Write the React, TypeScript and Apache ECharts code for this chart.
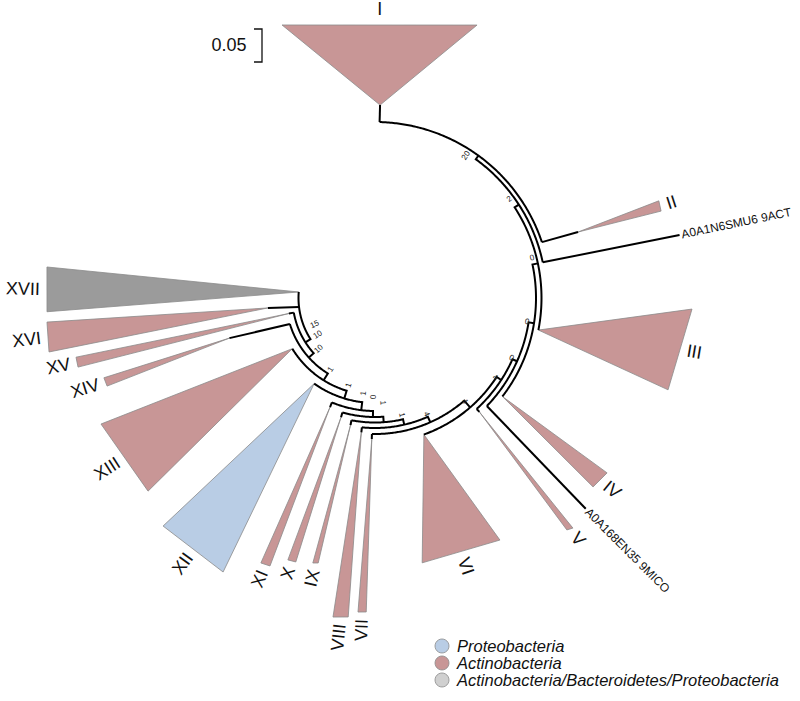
import React, { useEffect, useRef } from "react";
import * as echarts from "echarts";

// ---------------- data (polar: radius in px-units, angle in degrees clockwise from top) ----------------
const leafNames = ["I", "II", "A0A1N6SMU6 9ACT", "III", "IV", "A0A168EN35 9MICO", "V", "VI", "VII", "VIII", "IX", "X", "XI", "XII", "XIII", "XIV", "XV", "XVI", "XVII"];
// 0 = Proteobacteria, 1 = Actinobacteria, 2 = mixed, -1 = single taxon
const leafGroups = [1, 1, -1, 1, 1, -1, 1, 1, 1, 1, 1, 1, 1, 0, 1, 1, 1, 1, 2];
const leafParents = [0, 0, 1, 2, 3, 4, 5, 6, 7, 8, 9, 10, 11, 12, 13, 14, 15, 16, 16];
const leafAngles = [1.5, 71.5, 78, 101.1, 127.7, 134, 137.5, 160.3, 181.3, 185.8, 190.9, 195.9, 202.4, 215.4, 238.5, 253, 259.8, 263.2, 274.5];
const stemLengths = [17, 37.5, 139.5, 0, 0, 142.5, 4, 0, 5, 5, 5, 5, 5, 0, 0, 62, 5, 31, 0];
const apexAngles = [1.5, 72, 78.3, 101.1, 127.7, 135, 137.5, 160.3, 181.3, 185.8, 190.9, 195.9, 202.4, 215.4, 238.5, 254.6, 259.8, 264.7, 274.5];
const tipRadiiA = [288.4, 300, 0, 317.2, 290.6, 0, 303.5, 272.4, 314.1, 320.1, 271, 275.6, 287.8, 311.3, 301.6, 282.6, 304.8, 328.9, 329.5];
const tipAnglesA = [-18.8, 71.1, 0, 92, 127, 0, 139.3, 152.7, 181.6, 184.8, 192.1, 196.7, 201.4, 222.9, 245.3, 253.6, 258.8, 265.8, 275.4];
const tipRadiiB = [291.4, 299, 0, 307.1, 288.5, 0, 301, 269, 314.5, 321.8, 272.2, 276, 288.5, 313.3, 298, 282, 304.9, 330.4, 328.3];
const tipAnglesB = [20.5, 73.1, 0, 107.4, 130.9, 0, 140.4, 169.9, 183.1, 187.5, 193.2, 198.4, 203.3, 209, 229.6, 251.8, 256.9, 260.6, 267.6];

const nodeRadii = [176, 171.5, 166.5, 161, 155.5, 150.5, 145, 136, 130, 124.5, 119, 113, 105, 97, 89, 82.5, 76.5];
const nodeParents = [-1, 0, 1, 2, 3, 4, 5, 6, 7, 8, 9, 10, 11, 12, 13, 14, 15];
const nodeStubAngles = [-1, 36, 57, 78, 99, 114, 123, 139, 156, 167, 176, 181, 187, 197, 212, 228, 237.5];

const supportValues = ["20", "2", "0", "0", "0", "4", "4", "4", "1", "1", "0", "1", "1", "1", "10", "10", "15"];
const supportRadii = [169, 167, 162, 154, 149, 144, 137, 127, 120, 105, 99, 96, 91, 84, 76, 68, 66];
const supportAngles = [32.5, 53.6, 75.6, 98.8, 113.7, 123.4, 139, 156, 167, 175.7, 181, 187, 197, 212, 228, 237.5, 246.5];

const groupNames = ["Proteobacteria", "Actinobacteria", "Actinobacteria/Bacteroidetes/Proteobacteria"];
const groupColors = ["#b9cde5", "#c89696", "#9b9b9b"];
const legendColors = ["#b9cde5", "#c89696", "#d0d0d0"];
const scaleBarLabel = "0.05";

// ---------------- helpers ----------------
const FONT = '"Liberation Sans", Arial, Helvetica, sans-serif';
const LABEL_SIZE = 18;
const charW: Record<string, number> = { I: 0.278, V: 0.667, X: 0.667 };
const romanWidth = (s: string) => s.split("").reduce((a, ch) => a + (charW[ch] ?? 0.6), 0) * LABEL_SIZE;
const radialRotation = (ux: number, uy: number) => (ux >= 0 ? -Math.atan2(uy, ux) : -Math.atan2(-uy, -ux));

const App = () => {
  const ref = useRef<HTMLDivElement>(null);
  useEffect(() => {
    const chart = echarts.init(ref.current as HTMLDivElement, undefined, { renderer: "svg" });

    const nodeData = nodeRadii.map((r, k) => {
      const angles: number[] = [];
      if (nodeStubAngles[k] >= 0) angles.push(nodeStubAngles[k]);
      leafParents.forEach((p, i) => { if (p === k) angles.push(leafAngles[i]); });
      nodeParents.forEach((p, j) => { if (p === k) angles.push(nodeStubAngles[j]); });
      const pr = nodeParents[k] >= 0 ? nodeRadii[nodeParents[k]] : -1;
      return [r, Math.min(...angles), Math.max(...angles), pr, nodeStubAngles[k]];
    });

    const leafData = leafNames.map((_, i) => {
      const attachR = nodeRadii[leafParents[i]];
      return [attachR, leafAngles[i], attachR + stemLengths[i], apexAngles[i], tipRadiiA[i], tipAnglesA[i], tipRadiiB[i], tipAnglesB[i], leafGroups[i]];
    });

    const supportData = supportValues.map((_, i) => [supportRadii[i], supportAngles[i]]);

    const renderNode = (params: any, api: any) => {
      const r = api.value(0), a0 = api.value(1), a1 = api.value(2), pr = api.value(3), sa = api.value(4);
      const pts: number[][] = [];
      if (pr > 0) pts.push(api.coord([pr, sa]));
      const n = Math.max(2, Math.ceil((a1 - a0) / 0.5));
      for (let j = 0; j <= n; j++) pts.push(api.coord([r, a0 + ((a1 - a0) * j) / n]));
      return { type: "polyline", shape: { points: pts }, style: { stroke: "#000", lineWidth: 2, fill: null }, silent: true };
    };

    const renderLeaf = (params: any, api: any) => {
      const i = params.dataIndex;
      const name = leafNames[i];
      const c = api.coord([0, 0]);
      const attach = api.coord([api.value(0), api.value(1)]);
      const apex = api.coord([api.value(2), api.value(3)]);
      const group = api.value(8);
      const children: any[] = [];
      if (group >= 0) {
        const ta = api.coord([api.value(4), api.value(5)]);
        const tb = api.coord([api.value(6), api.value(7)]);
        children.push({ type: "polygon", shape: { points: [apex, ta, tb] }, style: { fill: groupColors[group], stroke: "#8a8a8a", lineWidth: 0.8 }, silent: true });
        const m = [(ta[0] + tb[0]) / 2, (ta[1] + tb[1]) / 2];
        const vx = m[0] - c[0], vy = m[1] - c[1];
        const len = Math.hypot(vx, vy);
        const ux = vx / len, uy = vy / len;
        const top = uy < -0.95;
        const half = top ? LABEL_SIZE * 0.5 : romanWidth(name) / 2;
        const pad = 7;
        children.push({
          type: "text",
          x: m[0] + ux * (pad + half),
          y: m[1] + uy * (pad + half),
          rotation: top ? 0 : radialRotation(ux, uy),
          style: { text: name, font: `${LABEL_SIZE}px ${FONT}`, fill: "#111", align: "center", verticalAlign: "middle" },
          silent: true,
        });
      } else {
        const vx = apex[0] - c[0], vy = apex[1] - c[1];
        const len = Math.hypot(vx, vy);
        const ux = vx / len, uy = vy / len;
        children.push({
          type: "text",
          x: apex[0] + ux * 2,
          y: apex[1] + uy * 2,
          rotation: radialRotation(ux, uy),
          style: { text: name, font: `12px ${FONT}`, fill: "#111", align: ux >= 0 ? "left" : "right", verticalAlign: "middle" },
          silent: true,
        });
      }
      if (api.value(2) - api.value(0) > 0.5) {
        children.push({ type: "polyline", shape: { points: [attach, apex] }, style: { stroke: "#000", lineWidth: 2, fill: null }, silent: true });
      }
      return { type: "group", children };
    };

    const renderSupport = (params: any, api: any) => {
      const c = api.coord([0, 0]);
      const p = api.coord([api.value(0), api.value(1)]);
      const vx = p[0] - c[0], vy = p[1] - c[1];
      const len = Math.hypot(vx, vy);
      return {
        type: "text",
        x: p[0], y: p[1],
        rotation: radialRotation(vx / len, vy / len),
        style: { text: supportValues[params.dataIndex], font: `8px ${FONT}`, fill: "#222", align: "center", verticalAlign: "middle" },
        silent: true,
      };
    };

    const legendY = [646, 663, 680];
    const legendGraphics: any[] = [];
    groupNames.forEach((g, k) => {
      legendGraphics.push({ type: "circle", shape: { cx: 442, cy: legendY[k], r: 7 }, style: { fill: legendColors[k], stroke: "#8a8a8a", lineWidth: 0.8 } });
      legendGraphics.push({ type: "text", x: 457, y: legendY[k], style: { text: g, font: `italic 16.5px ${FONT}`, fill: "#111", align: "left", verticalAlign: "middle" } });
    });

    chart.setOption({
      animation: false,
      backgroundColor: "#fff",
      polar: { center: [375, 298], radius: 340 },
      radiusAxis: { type: "value", min: 0, max: 340, show: false },
      angleAxis: { type: "value", min: 0, max: 360, startAngle: 90, clockwise: true, show: false },
      series: [
        { type: "custom", name: "clades", coordinateSystem: "polar", data: leafData, renderItem: renderLeaf, z: 1 },
        { type: "custom", name: "backbone", coordinateSystem: "polar", data: nodeData, renderItem: renderNode, z: 2 },
        { type: "custom", name: "support", coordinateSystem: "polar", data: supportData, renderItem: renderSupport, z: 3 },
      ],
      graphic: [
        { type: "text", x: 229, y: 45, style: { text: scaleBarLabel, font: `18px ${FONT}`, fill: "#111", align: "center", verticalAlign: "middle" } },
        { type: "polyline", shape: { points: [[254, 29], [262, 29], [262, 62], [254, 62]] }, style: { stroke: "#111", lineWidth: 1.3, fill: null } },
        ...legendGraphics,
      ],
    });
    return () => chart.dispose();
  }, []);
  return <div ref={ref} style={{ position: "absolute", left: 0, top: 0, width: 800, height: 701 }} />;
};

export default App;
